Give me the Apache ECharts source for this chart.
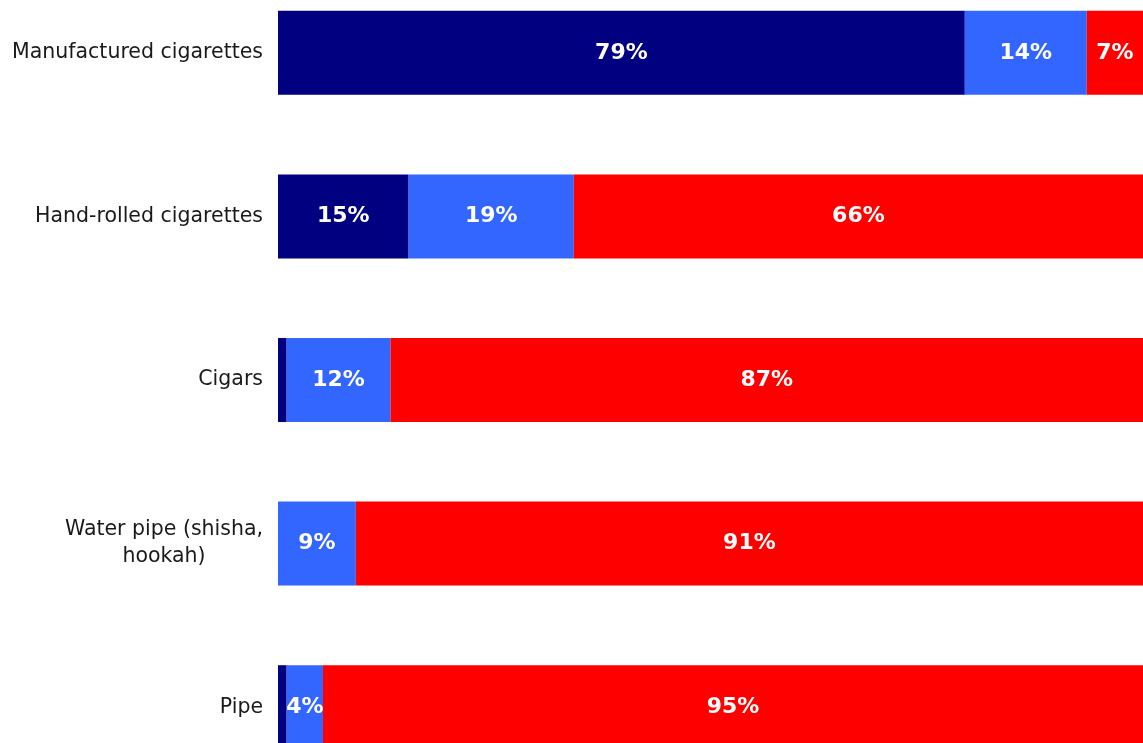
<!DOCTYPE html>
<html>
<head>
<meta charset="utf-8">
<script src="https://cdn.jsdelivr.net/npm/echarts@6/dist/echarts.min.js"></script>
<style>
html,body{margin:0;padding:0;background:#fff;overflow:hidden;}
#wrap{position:relative;width:1143px;height:743px;overflow:hidden;}
#chart{position:absolute;left:0;top:-29px;width:1143px;height:818px;}
</style>
</head>
<body>
<div id="wrap"><div id="chart"></div></div>
<script>
const categories = ['Manufactured cigarettes', 'Hand-rolled cigarettes', 'Cigars', 'Water pipe (shisha,\nhookah)', 'Pipe'];
const seriesDark = [79.4, 15.1, 1.0, 0, 1.0];
const seriesLight = [14.1, 19.1, 12.0, 9.0, 4.2];
const seriesRed = [6.5, 65.8, 87.0, 91.0, 94.8];
const colors = ['#000080', '#3366FF', '#FF0000'];

const chart = echarts.init(document.getElementById('chart'));
const labelCfg = {
  show: true,
  position: 'inside',
  color: '#ffffff',
  fontFamily: 'DejaVu Sans',
  fontWeight: 'bold',
  fontSize: 22,
  formatter: p => p.value >= 3 ? Math.round(p.value) + '%' : ''
};
function mk(name, data, color) {
  return {
    name: name, type: 'bar', stack: 'total', data: data,
    barWidth: 84,
    itemStyle: { color: color },
    label: labelCfg,
    emphasis: { disabled: true }
  };
}
chart.setOption({
  animation: false,
  grid: { left: 278, right: 0, top: 0, bottom: 0, containLabel: false },
  xAxis: { type: 'value', min: 0, max: 100, show: false },
  yAxis: {
    type: 'category', data: categories, inverse: true,
    axisLine: { show: false }, axisTick: { show: false }, splitLine: { show: false },
    axisLabel: {
      margin: 15,
      color: '#1a1a1a',
      fontFamily: 'DejaVu Sans',
      fontSize: 20.5,
      lineHeight: 27,
      formatter: v => v.split('\n').map(s => '{a|' + s + '}').join('\n'),
      rich: { a: { align: 'center', fontFamily: 'DejaVu Sans', fontSize: 20.5, color: '#1a1a1a', lineHeight: 27 } }
    }
  },
  series: [mk('A', seriesDark, colors[0]), mk('B', seriesLight, colors[1]), mk('C', seriesRed, colors[2])]
});
</script>
</body>
</html>
